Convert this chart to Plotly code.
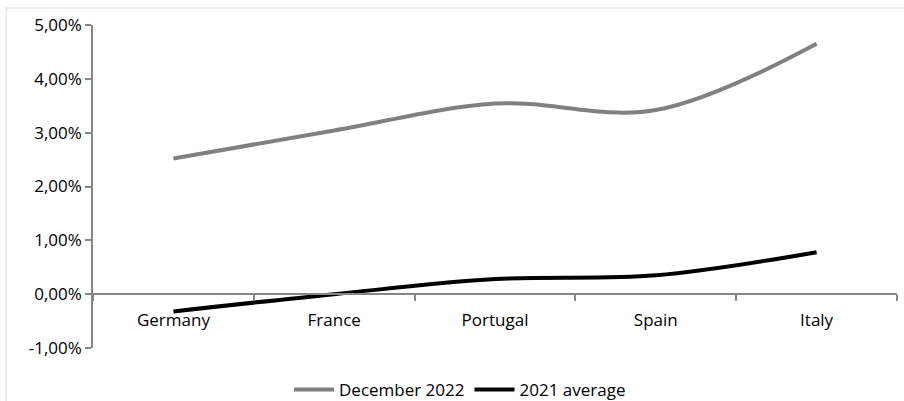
import plotly.graph_objects as go

categories = ["Germany", "France", "Portugal", "Spain", "Italy"]
dec_2022 = [2.52, 3.04, 3.54, 3.42, 4.65]
avg_2021 = [-0.32, 0.0, 0.28, 0.35, 0.78]
y_ticks = [-1, 0, 1, 2, 3, 4, 5]
y_tick_labels = ["-1,00%", "0,00%", "1,00%", "2,00%", "3,00%", "4,00%", "5,00%"]

FONT = "'Open Sans', 'Liberation Sans', sans-serif"
AXIS = "#868686"

W, H = 904, 401
M_L, M_R, M_T = 93, 7, 25
PLOT_BOTTOM = 348            # pixel row of the plot-area bottom
PAPER_H = H - M_T            # margin b = 0, so paper spans to the figure bottom


def py(pix):
    """pixel row -> paper y"""
    return (H - pix) / PAPER_H


def px(pix):
    """pixel column -> paper x"""
    return (pix - M_L) / (W - M_L - M_R)


fig = go.Figure()
fig.add_trace(go.Scatter(x=categories, y=dec_2022, mode="lines", name="December 2022",
                         line=dict(color="#808080", width=4, shape="spline")))
fig.add_trace(go.Scatter(x=categories, y=avg_2021, mode="lines", name="2021 average",
                         line=dict(color="#000000", width=4, shape="spline")))

y_min, y_max = y_ticks[0], y_ticks[-1]
dom0 = py(PLOT_BOTTOM)
zero_pos = dom0 + (1 - dom0) * (0 - y_min) / (y_max - y_min)

fig.update_layout(
    width=W, height=H,
    margin=dict(l=M_L, r=M_R, t=M_T, b=0, autoexpand=False),
    paper_bgcolor="white", plot_bgcolor="white",
    font=dict(family=FONT, size=17, color="#000000"),
    showlegend=True,
    legend=dict(orientation="h", x=px(460), xanchor="center", y=py(390), yanchor="middle",
                font=dict(size=17), itemwidth=40, bgcolor="rgba(0,0,0,0)"),
    xaxis=dict(type="category", anchor="free", position=zero_pos, showline=True,
               linecolor=AXIS, linewidth=1.5, ticks="outside", tickson="boundaries",
               ticklen=6, tickcolor=AXIS, tickwidth=1.5, showgrid=False, zeroline=False,
               ticklabelstandoff=11, range=[-0.5, 4.5]),
    yaxis=dict(domain=[dom0, 1], range=[y_min, y_max], tickvals=y_ticks, ticktext=y_tick_labels,
               showline=True, linecolor=AXIS, linewidth=1.5, ticks="outside", ticklen=6,
               tickcolor=AXIS, tickwidth=1.5, showgrid=False, zeroline=False),
)

# chart area border (light gray)
fig.add_shape(type="line", xref="paper", yref="paper", x0=px(6), x1=px(6), y0=py(8), y1=py(410),
              line=dict(color="#d9d9d9", width=1))
fig.add_shape(type="line", xref="paper", yref="paper", x0=px(6), x1=px(910), y0=py(8), y1=py(8),
              line=dict(color="#d9d9d9", width=1))

fig.write_html("out.html")
